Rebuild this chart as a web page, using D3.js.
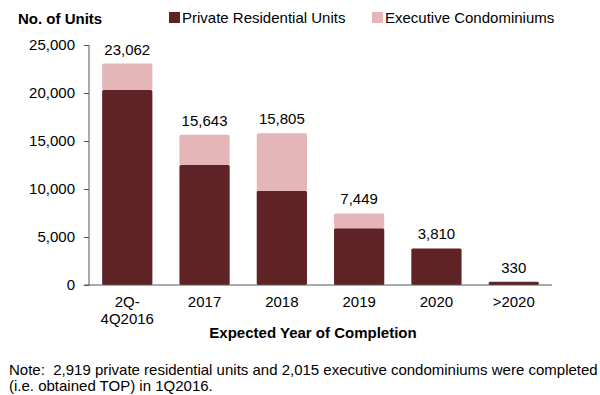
<!DOCTYPE html>
<html lang="en">
<head>
    <meta charset="UTF-8">
    <title>units</title>
    <script src="https://cdn.jsdelivr.net/npm/d3@7"></script>
    <style>
        *{
            padding: 0;
            margin: 0;
        }
        body{
            background: #fff;
        }
        svg text{
            font-family: Arial, "Liberation Sans", sans-serif;
            fill: #000;
        }
    </style>
</head>
<body>
<script>
    let categories = [["2Q-", "4Q2016"], ["2017"], ["2018"], ["2019"], ["2020"], [">2020"]];
    let privateUnits = [20300, 12500, 9820, 5900, 3810, 330];
    let ecUnits = [2762, 3143, 5985, 1549, 0, 0];
    let yTicks = [0, 5000, 10000, 15000, 20000, 25000];
    let seriesNames = ["Private Residential Units", "Executive Condominiums"];
    let colors = ["#5f2325", "#e5b6b8"];

    let W = 600, H = 395;
    let mLeft = 89, mRight = 552, mTop = 45, mBottom = 285;
    let fs = 15;

    let svg = d3.select("body").append("svg")
        .attr("width", W)
        .attr("height", H);

    let x = d3.scaleBand()
        .domain(d3.range(categories.length))
        .range([mLeft, mRight])
        .paddingInner(0.35)
        .paddingOuter(0.17);
    let y = d3.scaleLinear()
        .domain([0, 25000])
        .range([mBottom, mTop]);

    // stacked data
    let rows = categories.map(function (c, i) {
        return {i: i, p: privateUnits[i], e: ecUnits[i]};
    });
    let stack = d3.stack().keys(["p", "e"])(rows);

    svg.append("g").selectAll("g").data(stack).enter().append("g")
        .attr("fill", function (d, k) { return colors[k]; })
        .selectAll("rect").data(function (d) { return d.filter(function (s) { return s[1] > s[0]; }); })
        .enter().append("rect")
        .attr("x", function (d) { return x(d.data.i); })
        .attr("width", x.bandwidth())
        .attr("y", function (d) { return y(d[1]); })
        .attr("height", function (d) { return y(d[0]) - y(d[1]); })
        .attr("rx", 1.5);

    // y axis
    let yAxis = svg.append("g")
        .attr("transform", "translate(" + mLeft + ",0)")
        .call(d3.axisLeft(y).tickValues(yTicks).tickSize(5).tickPadding(9)
            .tickFormat(d3.format(",")));
    yAxis.select(".domain").attr("stroke", "#555").attr("d", "M0," + mTop + "V" + mBottom);
    yAxis.selectAll(".tick line").attr("stroke", "#555");
    yAxis.selectAll("text").attr("font-size", fs).attr("font-family", "Arial, 'Liberation Sans', sans-serif");

    // x axis line
    svg.append("line")
        .attr("x1", mLeft - 5).attr("x2", mRight)
        .attr("y1", mBottom).attr("y2", mBottom)
        .attr("stroke", "#555");

    // category labels
    let xl = svg.append("g").selectAll("text").data(categories).enter().append("text")
        .attr("x", function (d, i) { return x(i) + x.bandwidth() / 2; })
        .attr("y", 307)
        .attr("text-anchor", "middle")
        .attr("font-size", fs);
    xl.selectAll("tspan").data(function (d) { return d; }).enter().append("tspan")
        .attr("x", function () { return this.parentNode.getAttribute("x"); })
        .attr("dy", function (d, j) { return j === 0 ? 0 : 17; })
        .text(function (d) { return d; });

    // total labels
    svg.append("g").selectAll("text").data(rows).enter().append("text")
        .attr("x", function (d) { return x(d.i) + x.bandwidth() / 2; })
        .attr("y", function (d) { return y(d.p + d.e) - 9; })
        .attr("text-anchor", "middle")
        .attr("font-size", fs)
        .text(function (d) { return d3.format(",")(d.p + d.e); });

    // titles
    svg.append("text")
        .attr("x", 18).attr("y", 24)
        .attr("font-size", fs).attr("font-weight", "bold")
        .text("No. of Units");
    svg.append("text")
        .attr("x", 313).attr("y", 338)
        .attr("text-anchor", "middle")
        .attr("font-size", fs).attr("font-weight", "bold")
        .text("Expected Year of Completion");

    // legend
    let legX = [169, 372];
    let leg = svg.append("g").selectAll("g").data(seriesNames).enter().append("g")
        .attr("transform", function (d, i) { return "translate(" + legX[i] + ",12)"; });
    leg.append("rect")
        .attr("width", 11).attr("height", 11)
        .attr("fill", function (d, i) { return colors[i]; });
    leg.append("text")
        .attr("x", 13).attr("y", 11)
        .attr("font-size", fs)
        .text(function (d) { return d; });

    // note
    svg.append("text")
        .attr("x", 9).attr("y", 375)
        .attr("font-size", fs)
        .attr("xml:space", "preserve")
        .text("Note:  2,919 private residential units and 2,015 executive condominiums were completed");
    svg.append("text")
        .attr("x", 9).attr("y", 391)
        .attr("font-size", fs)
        .text("(i.e. obtained TOP) in 1Q2016.");
</script>
</body>
</html>
